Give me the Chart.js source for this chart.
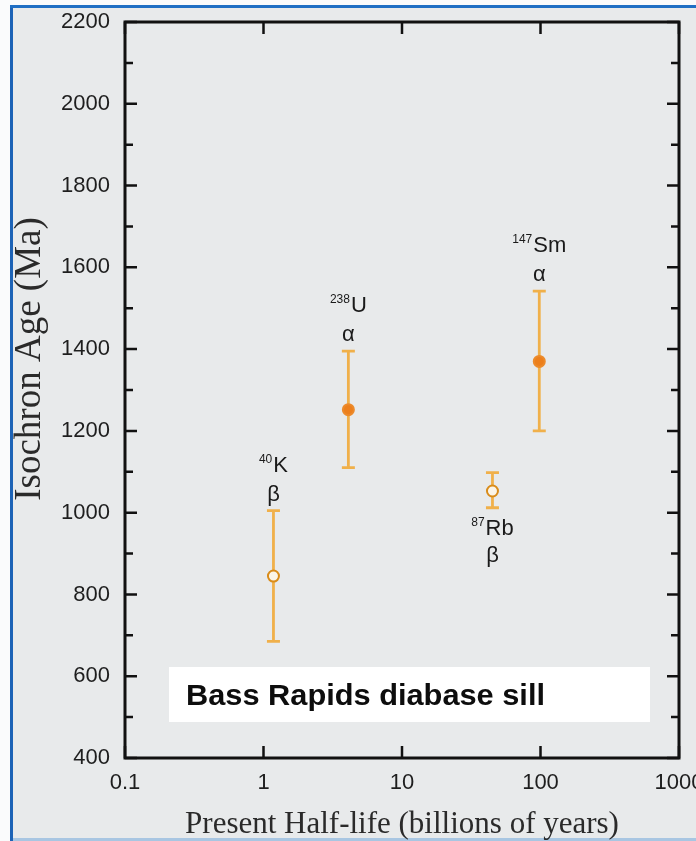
<!DOCTYPE html>
<html><head><meta charset="utf-8">
<script src="https://cdn.jsdelivr.net/npm/chart.js@4.4.0/dist/chart.umd.min.js"></script>
<style>html,body{margin:0;padding:0;background:#fff;overflow:hidden}#wrap{position:relative;width:696px;height:841px}</style>
</head><body><div id="wrap"><canvas id="c"></canvas></div>
<script>
// ---- data ----
const massNumbers = ['40', '238', '87', '147'];
const elements = ['K', 'U', 'Rb', 'Sm'];
const decayModes = ['β', 'α', 'β', 'α'];
const halfLives = [1.18, 4.1, 45, 98];          // billions of years
const ages = [845, 1252, 1053, 1370];            // Ma
const ageLow = [685, 1110, 1012, 1200];
const ageHigh = [1005, 1395, 1098, 1542];
const labelSide = ['above', 'above', 'below', 'above'];
const xTickValues = [0.1, 1, 10, 100, 1000];
const yTickValues = [400, 600, 800, 1000, 1200, 1400, 1600, 1800, 2000, 2200];
const yMinorTickValues = [500, 700, 900, 1100, 1300, 1500, 1700, 1900, 2100];
const xTitle = 'Present Half-life (billions of years)';
const yTitle = 'Isochron Age (Ma)';
const noteText = 'Bass Rapids diabase sill';

const SANS = "'Liberation Sans', Arial, sans-serif";
const SERIF = "'Liberation Serif', 'Times New Roman', serif";
const ORANGE_BAR = '#f0b04a';
const isOpen = decayModes.map(d => d === 'β');

const decor = {
  id: 'decor',
  beforeDraw(chart) {
    const ctx = chart.ctx, W = chart.width, H = chart.height;
    ctx.save();
    ctx.fillStyle = '#fafbfc'; ctx.fillRect(0, 0, W, H);
    ctx.fillStyle = '#e8eaeb'; ctx.fillRect(13, 8, W - 13, H - 8);
    ctx.fillStyle = '#1d63b6'; ctx.fillRect(10, 5, 3, H - 5);
    ctx.fillStyle = '#1f6fc4'; ctx.fillRect(10, 5, W - 10, 3);
    ctx.fillStyle = '#a8c6e2'; ctx.fillRect(13, H - 3, W - 13, 3);
    ctx.restore();
  },
  beforeDatasetsDraw(chart) {
    const {ctx, chartArea: a, scales: {x, y}} = chart;
    ctx.save();
    // note box
    ctx.fillStyle = '#ffffff';
    ctx.fillRect(a.left + 44, a.bottom - 91, a.right - a.left - 73, 55);
    ctx.fillStyle = '#0d0d0d';
    ctx.font = 'bold 29px ' + SANS;
    ctx.textBaseline = 'alphabetic'; ctx.textAlign = 'left';
    ctx.translate(a.left + 61, a.bottom - 53);
    const nw = ctx.measureText(noteText).width;
    ctx.scale(359 / nw, 1);
    ctx.fillText(noteText, 0, 0);
    ctx.setTransform(1, 0, 0, 1, 0, 0);
    ctx.restore();
    ctx.save();
    // y axis title (rotated)
    ctx.fillStyle = '#2a2a2a';
    ctx.font = '37px ' + SERIF;
    ctx.translate(30, 359);
    ctx.rotate(-Math.PI / 2);
    ctx.textAlign = 'center'; ctx.textBaseline = 'middle';
    ctx.fillText(yTitle, 0, 0);
    ctx.restore();
    ctx.save();
    // frame
    ctx.strokeStyle = '#111'; ctx.lineWidth = 3;
    ctx.strokeRect(a.left, a.top, a.right - a.left, a.bottom - a.top);
    // ticks (inward)
    ctx.lineWidth = 2.5;
    ctx.beginPath();
    yTickValues.forEach(v => {
      const py = y.getPixelForValue(v);
      ctx.moveTo(a.left, py); ctx.lineTo(a.left + 12, py);
      ctx.moveTo(a.right, py); ctx.lineTo(a.right - 12, py);
    });
    yMinorTickValues.forEach(v => {
      const py = y.getPixelForValue(v);
      ctx.moveTo(a.left, py); ctx.lineTo(a.left + 8, py);
      ctx.moveTo(a.right, py); ctx.lineTo(a.right - 8, py);
    });
    xTickValues.forEach(v => {
      const px = x.getPixelForValue(v);
      ctx.moveTo(px, a.bottom); ctx.lineTo(px, a.bottom - 12);
      ctx.moveTo(px, a.top); ctx.lineTo(px, a.top + 12);
    });
    ctx.stroke();
    // error bars
    ctx.strokeStyle = ORANGE_BAR; ctx.lineWidth = 2.8;
    halfLives.forEach((h, i) => {
      const px = x.getPixelForValue(h);
      const lo = y.getPixelForValue(ageLow[i]);
      const hi = y.getPixelForValue(ageHigh[i]);
      ctx.beginPath();
      ctx.moveTo(px, lo); ctx.lineTo(px, hi);
      ctx.moveTo(px - 6.5, lo); ctx.lineTo(px + 6.5, lo);
      ctx.moveTo(px - 6.5, hi); ctx.lineTo(px + 6.5, hi);
      ctx.stroke();
    });
    ctx.restore();
  },
  afterDatasetsDraw(chart) {
    const {ctx, scales: {x, y}} = chart;
    ctx.save();
    ctx.fillStyle = '#1a1a1a';
    halfLives.forEach((h, i) => {
      const px = x.getPixelForValue(h);
      let symY, decY;
      if (labelSide[i] === 'above') {
        const an = y.getPixelForValue(ageHigh[i]);
        symY = an - 47; decY = an - 16;
      } else {
        const an = y.getPixelForValue(ageLow[i]);
        symY = an + 19; decY = an + 48;
      }
      ctx.font = '12px ' + SANS;
      const supW = ctx.measureText(massNumbers[i]).width;
      ctx.font = '22px ' + SANS;
      const symW = ctx.measureText(elements[i]).width;
      const start = px - (supW + 1 + symW) / 2;
      ctx.textAlign = 'left'; ctx.textBaseline = 'alphabetic';
      ctx.font = '12px ' + SANS;
      ctx.fillText(massNumbers[i], start, symY - 1);
      ctx.font = '22px ' + SANS;
      ctx.fillText(elements[i], start + supW + 1, symY + 8);
      ctx.textAlign = 'center'; ctx.textBaseline = 'middle';
      ctx.fillText(decayModes[i], px, decY);
    });
    ctx.restore();
  }
};

new Chart(document.getElementById('c'), {
  type: 'scatter',
  data: {
    datasets: [{
      data: halfLives.map((h, i) => ({x: h, y: ages[i]})),
      pointRadius: 5.5,
      pointBorderWidth: 2,
      backgroundColor: isOpen.map(o => o ? '#fbf5e8' : '#ec7f1c'),
      borderColor: isOpen.map(o => o ? '#d98c1a' : '#ec8a2a'),
      showLine: false
    }]
  },
  options: {
    responsive: true,
    maintainAspectRatio: false,
    animation: false,
    events: [],
    layout: {padding: {top: 22, right: 17, left: 0, bottom: 0}},
    plugins: {legend: {display: false}, tooltip: {enabled: false}},
    scales: {
      x: {
        type: 'logarithmic', min: 0.1, max: 1000,
        afterBuildTicks: s => { s.ticks = xTickValues.map(v => ({value: v})); },
        afterFit: s => { s.height = 83; s.paddingLeft = 0; s.paddingRight = 0; },
        grid: {display: false, drawTicks: false},
        border: {display: false},
        ticks: {autoSkip: false, maxRotation: 0, padding: 12, color: '#1e1e1e',
                font: {family: SANS, size: 22}, callback: v => String(v)},
        title: {display: true, text: xTitle, color: '#2a2a2a',
                font: {family: SERIF, size: 31, lineHeight: 1}, padding: {top: 0, bottom: 1}}
      },
      y: {
        min: 400, max: 2200,
        afterBuildTicks: s => { s.ticks = yTickValues.map(v => ({value: v})); },
        afterFit: s => { s.width = 125; s.paddingTop = 0; s.paddingBottom = 0; },
        grid: {display: false, drawTicks: false},
        border: {display: false},
        ticks: {padding: 15, color: '#1e1e1e', font: {family: SANS, size: 22},
                callback: v => String(v)},
        title: {display: false, text: yTitle}
      }
    }
  },
  plugins: [decor]
});
</script>
</body></html>
